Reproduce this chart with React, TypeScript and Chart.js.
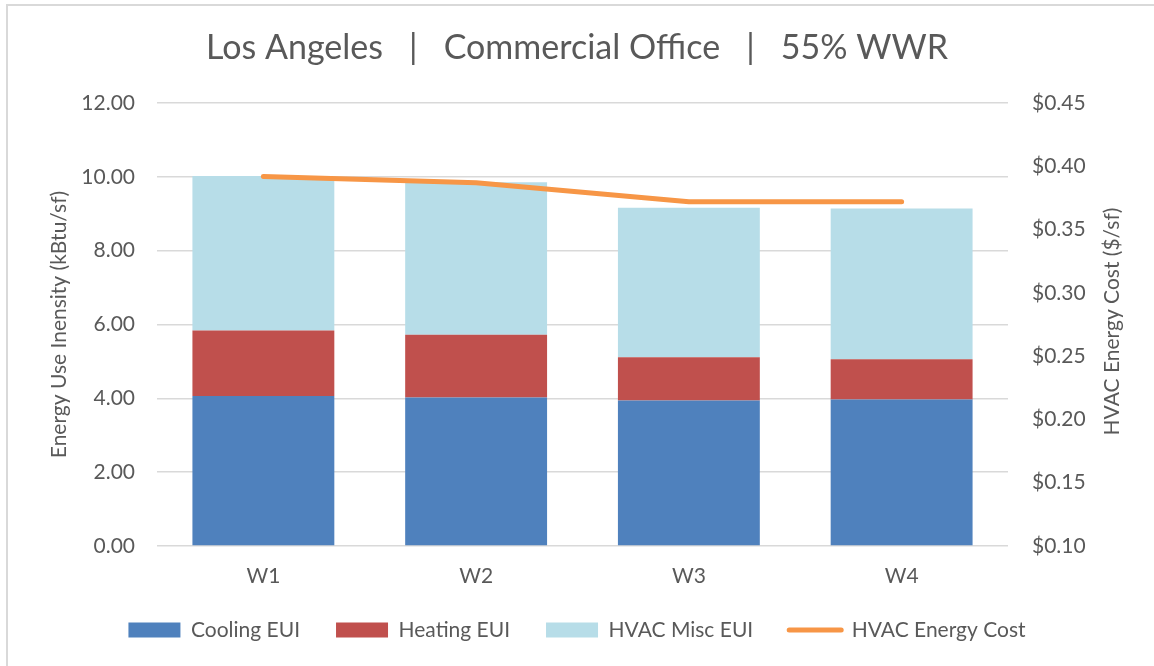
import React, { useEffect, useRef } from 'react';
import { Chart, registerables } from 'chart.js';

Chart.register(...registerables);

const categories = ['W1', 'W2', 'W3', 'W4'];
const coolingEUI = [4.06, 4.02, 3.94, 3.97];
const heatingEUI = [1.78, 1.70, 1.17, 1.09];
const miscEUI = [4.18, 4.13, 4.05, 4.08];
const energyCost = [0.392, 0.387, 0.372, 0.372];

const titleText = 'Los Angeles   |   Commercial Office   |   55% WWR';
const leftAxisTitle = 'Energy Use Inensity (kBtu/sf)';
const rightAxisTitle = 'HVAC Energy Cost ($/sf)';
const FONT = 'Lato, "Open Sans", sans-serif';
const TEXT = '#595959';

const rightTitlePlugin = {
  id: 'rightTitle',
  afterDraw(chart: any) {
    const { ctx, chartArea } = chart;
    ctx.save();
    ctx.fillStyle = TEXT;
    ctx.font = `21px ${FONT}`;
    ctx.textAlign = 'center';
    ctx.textBaseline = 'middle';
    ctx.translate(1112, (chartArea.top + chartArea.bottom) / 2 - 3);
    ctx.rotate(-Math.PI / 2);
    ctx.fillText(rightAxisTitle, 0, 0);
    ctx.restore();
  },
};

export default function App() {
  const ref = useRef<HTMLCanvasElement | null>(null);

  useEffect(() => {
    if (!ref.current) return;
    const barCommon = {
      type: 'bar',
      borderWidth: 0,
      yAxisID: 'y',
      stack: 's',
      order: 1,
      barPercentage: 0.667,
      categoryPercentage: 1,
    };
    const chart = new Chart(ref.current, {
      type: 'bar',
      plugins: [rightTitlePlugin],
      data: {
        labels: categories,
        datasets: [
          { ...barCommon, label: 'Cooling EUI', data: coolingEUI, backgroundColor: '#4F81BD' } as any,
          { ...barCommon, label: 'Heating EUI', data: heatingEUI, backgroundColor: '#C0504D' } as any,
          { ...barCommon, label: 'HVAC Misc EUI', data: miscEUI, backgroundColor: '#B7DDE8' } as any,
          {
            type: 'line',
            label: 'HVAC Energy Cost',
            data: energyCost,
            borderColor: '#F79646',
            backgroundColor: '#F79646',
            borderWidth: 5,
            borderCapStyle: 'round',
            borderJoinStyle: 'round',
            pointRadius: 0,
            tension: 0,
            yAxisID: 'y1',
            order: 0,
          } as any,
        ],
      },
      options: {
        responsive: false,
        animation: false,
        layout: { padding: { left: 0, right: 0, top: 0, bottom: 15.5 } },
        plugins: {
          tooltip: { enabled: false },
          title: {
            display: true,
            text: titleText,
            color: TEXT,
            font: { family: FONT, size: 34, weight: 'normal' as any },
            padding: { top: 27.6, bottom: 34.6 },
          },
          legend: {
            position: 'bottom',
            labels: {
              color: TEXT,
              font: { family: FONT, size: 21 },
              usePointStyle: true,
              pointStyleWidth: 52,
              boxWidth: 52,
              boxHeight: 15,
              padding: 36,
              generateLabels: (c: any) => {
                const items = Chart.defaults.plugins.legend.labels.generateLabels(c);
                items.sort((a: any, b: any) => a.datasetIndex - b.datasetIndex);
                return items.map((it: any) => {
                  const ds = c.data.datasets[it.datasetIndex];
                  if (ds.type === 'line') {
                    return { ...it, pointStyle: 'line', lineWidth: 5, strokeStyle: '#F79646', fillStyle: '#F79646', lineCap: 'round' };
                  }
                  return { ...it, pointStyle: 'rect', lineWidth: 0 };
                });
              },
            },
          },
        },
        scales: {
          x: {
            stacked: true,
            grid: { display: false, drawTicks: false },
            border: { display: false },
            ticks: { color: TEXT, font: { family: FONT, size: 21 }, padding: 18 },
            afterFit: (s: any) => {
              s.height = 37.5;
              s._computeLabelArea = () => undefined;
            },
          },
          y: {
            type: 'linear',
            position: 'left',
            stacked: true,
            min: 0,
            max: 12,
            ticks: {
              stepSize: 2,
              color: TEXT,
              font: { family: FONT, size: 21 },
              padding: 22,
              callback: (v: any) => Number(v).toFixed(2),
            },
            grid: { color: '#D9D9D9', lineWidth: 1.5, drawTicks: false },
            border: { display: false },
            title: {
              display: true,
              text: leftAxisTitle,
              color: TEXT,
              font: { family: FONT, size: 21 },
              padding: { top: 46.4, bottom: 0 },
            },
            afterFit: (s: any) => { s.width = 157; },
          },
          y1: {
            type: 'linear',
            position: 'right',
            min: 0.1,
            max: 0.45,
            ticks: {
              stepSize: 0.05,
              color: TEXT,
              font: { family: FONT, size: 21 },
              padding: 24,
              callback: (v: any) => '$' + Number(v).toFixed(2),
            },
            grid: { display: false, drawTicks: false },
            border: { display: false },
            afterFit: (s: any) => { s.width = 146; },
          },
        },
      },
    });
    return () => chart.destroy();
  }, []);

  return (
    <div style={{ position: 'fixed', left: 0, top: 0, width: 1154, height: 666, background: '#fff', overflow: 'hidden' }}>
      <canvas ref={ref} width={1154} height={666} style={{ width: 1154, height: 666, display: 'block' }} />
      <div
        style={{
          position: 'absolute',
          left: 6,
          top: 4,
          width: 1300,
          height: 800,
          borderLeft: '2px solid #D9D9D9',
          borderTop: '2px solid #D9D9D9',
          pointerEvents: 'none',
        }}
      />
    </div>
  );
}
